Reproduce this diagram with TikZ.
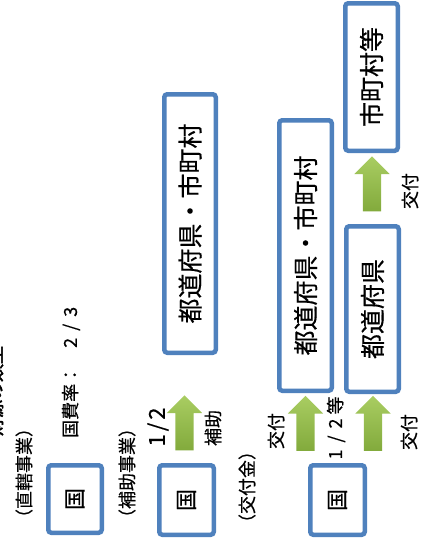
\documentclass[tikz,border=0pt]{standalone}
\usepackage{fontspec}
\newfontfamily\jp{Noto Sans CJK JP}[FakeBold=0.4]
\newfontfamily\jpb{Noto Sans CJK JP}[FakeBold=2.5]
\usetikzlibrary{shapes.arrows}
\definecolor{boxblue}{HTML}{4F81BD}
\definecolor{garrowL}{HTML}{A9CD62}
\definecolor{garrowR}{HTML}{82AA3C}
\begin{document}
\begin{tikzpicture}[x=1pt,y=-1pt,
  box/.style={draw=boxblue, line width=4.5pt, rounded corners=3pt, fill=white, rotate=90, inner sep=0pt, font=\jp\fontsize{25}{30}\selectfont},
  kuni/.style={box, font=\jp\fontsize{22}{26}\selectfont},
  lab/.style={rotate=90, inner sep=0pt, font=\jp\fontsize{18}{22}\selectfont},
  blockarrow/.style={single arrow, rotate=90, single arrow head extend=8.5pt, inner xsep=0pt, inner ysep=9pt, minimum height=55pt, top color=garrowL, bottom color=garrowR, draw=none}]
\useasboundingbox (0,0) rectangle (427,544);
% boxes
\node[kuni, minimum width=67.5pt, minimum height=53.5pt] (kA) at (75,499) {国};
\node[kuni, minimum width=69.5pt, minimum height=54.5pt] (kB) at (186.5,500) {国};
\node[box, minimum width=258.5pt, minimum height=51.5pt] (tC) at (190,223.5) {都道府県・市町村};
\node[kuni, minimum width=69.5pt, minimum height=54.5pt] (kD) at (337.5,500) {国};
\node[box, minimum width=270.5pt, minimum height=52.5pt] (tE) at (305.5,255.5) {都道府県・市町村};
\node[box, minimum width=165.5pt, minimum height=52.5pt] (tF) at (372.5,309) {都道府県};
\node[box, minimum width=147.5pt, minimum height=52.5pt] (sG) at (371.5,77) {市町村等};
% arrows
\node[blockarrow] (ar1) at (184.5,427.5) {};
\node[blockarrow] (ar2) at (305.5,428) {};
\node[blockarrow] (ar3) at (373,428) {};
\node[blockarrow] (ar4) at (372,188.5) {};
% labels
\node[lab, font=\jpb\fontsize{18}{22}\selectfont] (title) at (-5,391) {財源の類型};
\node[lab] (l1) at (24,473) {（直轄事業）};
\node[lab, anchor=west] (l2) at (71,438) {国費率：\hspace{18pt}2\hspace{7pt}/\hspace{7pt}3};
\node[lab] (l3) at (127,473) {（補助事業）};
\node[lab, font=\jp\fontsize{22}{26}\selectfont] (l4) at (158,427) {1\hspace{3pt}/\hspace{3pt}2};
\node[lab] (l5) at (213,428) {補助};
\node[lab] (l6) at (247,487) {（交付金）};
\node[lab] (l7) at (276,431) {交付};
\node[lab] (l8) at (336,428) {1\hspace{7pt}/\hspace{7pt}2\hspace{4pt}等};
\node[lab] (l9) at (409,432) {交付};
\node[lab] (l10) at (410,191) {交付};
\end{tikzpicture}
\end{document}
